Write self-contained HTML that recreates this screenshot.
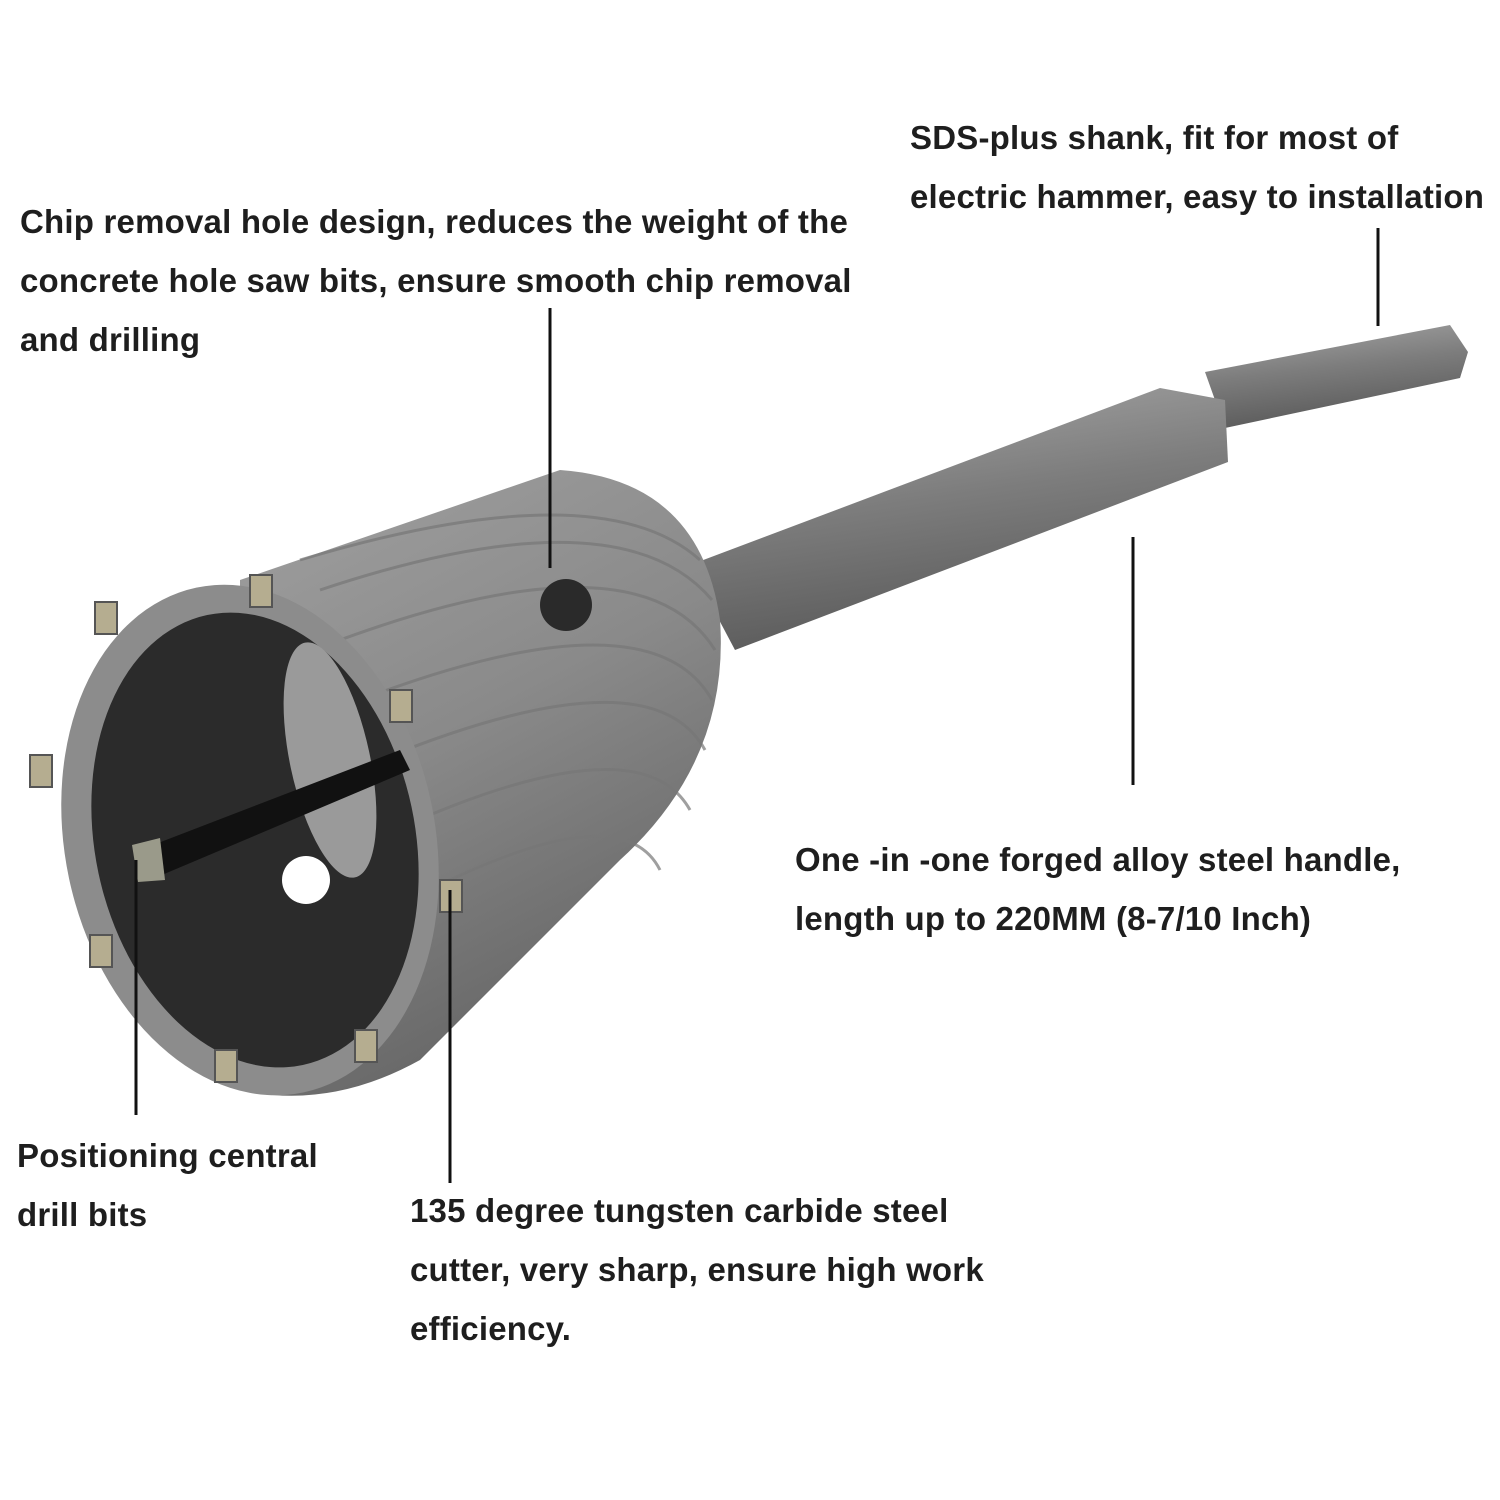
<!DOCTYPE html>
<html><head><meta charset="utf-8"><style>
html,body{margin:0;padding:0;background:#fff;}
#c{position:relative;width:1500px;height:1500px;overflow:hidden;background:#fff;}
.t{position:absolute;font-family:"Liberation Sans",sans-serif;font-weight:bold;font-size:33px;color:#1e1e1e;line-height:59px;white-space:nowrap;letter-spacing:0.2px;}
svg{position:absolute;left:0;top:0;}
</style></head><body><div id="c">
<svg width="1500" height="1500" viewBox="0 0 1500 1500">
<defs>
<linearGradient id="sh" x1="0" y1="0" x2="0.3" y2="1">
<stop offset="0" stop-color="#a9a9a9"/><stop offset="0.5" stop-color="#7d7d7d"/><stop offset="1" stop-color="#5a5a5a"/></linearGradient>
<linearGradient id="bd" x1="0" y1="0" x2="0.4" y2="1">
<stop offset="0" stop-color="#a0a0a0"/><stop offset="0.5" stop-color="#8a8a8a"/><stop offset="1" stop-color="#666"/></linearGradient>
</defs>
<polygon points="1205,372 1450,325 1468,352 1460,378 1225,428" fill="url(#sh)"/>
<polygon points="690,565 1160,388 1225,400 1228,462 735,650" fill="url(#sh)"/>
<path d="M240,580 L560,470 Q700,480 720,620 Q730,760 620,860 L420,1060 Q330,1110 240,1090 Z" fill="url(#bd)"/>
<g stroke="#777" stroke-width="3" fill="none" opacity="0.7">
<path d="M300,560 Q600,470 700,560"/><path d="M320,590 Q620,490 712,600"/>
<path d="M340,640 Q640,530 715,650"/><path d="M360,700 Q650,590 712,700"/>
<path d="M380,760 Q650,650 705,750"/><path d="M395,830 Q640,720 690,810"/>
<path d="M410,900 Q620,790 660,870"/>
</g>
<ellipse cx="250" cy="840" rx="185" ry="258" transform="rotate(-12 250 840)" fill="#8c8c8c"/>
<ellipse cx="255" cy="840" rx="160" ry="230" transform="rotate(-12 255 840)" fill="#2b2b2b"/>
<ellipse cx="330" cy="760" rx="40" ry="120" transform="rotate(-12 330 760)" fill="#9a9a9a"/>
<circle cx="306" cy="880" r="24" fill="#fff"/>
<circle cx="566" cy="605" r="26" fill="#2a2a2a"/>
<polygon points="140,850 400,750 410,770 150,880" fill="#111"/>
<polygon points="132,845 160,838 165,880 138,882" fill="#9a9a8a"/>
<g fill="#b5ad90" stroke="#555" stroke-width="2">
<rect x="95" y="602" width="22" height="32"/><rect x="250" y="575" width="22" height="32"/>
<rect x="390" y="690" width="22" height="32"/><rect x="30" y="755" width="22" height="32"/>
<rect x="440" y="880" width="22" height="32"/><rect x="90" y="935" width="22" height="32"/>
<rect x="215" y="1050" width="22" height="32"/><rect x="355" y="1030" width="22" height="32"/>
</g>
<g stroke="#111" stroke-width="3">
<line x1="1378" y1="228" x2="1378" y2="326"/>
<line x1="550" y1="308" x2="550" y2="568"/>
<line x1="1133" y1="537" x2="1133" y2="785"/>
<line x1="136" y1="860" x2="136" y2="1115"/>
<line x1="450" y1="890" x2="450" y2="1183"/>
</g>
</svg>
<div class="t" style="left:910px;top:108px">SDS-plus shank, fit for most of<br>electric hammer, easy to installation</div>
<div class="t" style="left:20px;top:192px">Chip removal hole design, reduces the weight of the<br>concrete hole saw bits, ensure smooth chip removal<br>and drilling</div>
<div class="t" style="left:795px;top:830px">One -in -one forged alloy steel handle,<br>length up to 220MM (8-7/10 Inch)</div>
<div class="t" style="left:17px;top:1126px">Positioning central<br>drill bits</div>
<div class="t" style="left:410px;top:1181px">135 degree tungsten carbide steel<br>cutter, very sharp, ensure high work<br>efficiency.</div>
</div></body></html>
